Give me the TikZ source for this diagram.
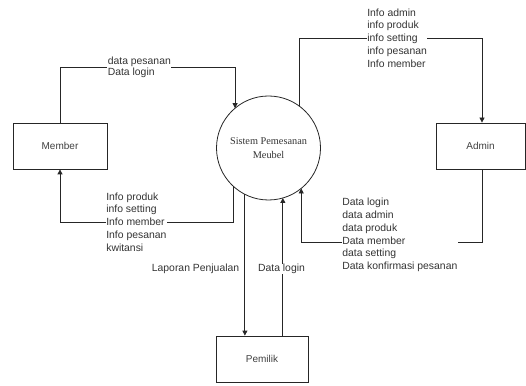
\documentclass[tikz,border=0pt]{standalone}
\usepackage{fontspec}
\setmainfont{Liberation Sans}
\newfontfamily\serifface{Liberation Serif}
\usetikzlibrary{arrows.meta}
\begin{document}
\begin{tikzpicture}[x=1pt,y=1pt,
  ent/.style={draw=black!85,line width=0.8pt,minimum width=94pt,minimum height=46pt,inner sep=0pt,
    font=\fontsize{10}{12}\selectfont,text=black!75},
  proc/.style={draw=black!85,line width=0.8pt,circle,minimum size=104pt,inner sep=0pt,outer sep=0pt,
    align=center,font=\serifface\fontsize{10.3}{13.5}\selectfont,text=black!80},
  flow/.style={draw=black!85,line width=0.8pt,-{Triangle[length=5pt,width=5pt]}},
  plain/.style={draw=black!85,line width=0.8pt},
  lbl/.style={fill=white,inner sep=0.6pt,align=left,text=black!80,
    font=\fontsize{10.4}{12.75}\selectfont},
]
\useasboundingbox (0,0) rectangle (526,385);
\node[ent] (member) at (60,239) {Member};
\node[ent,minimum width=89pt] (admin) at (480.5,239) {Admin};
\node[ent,minimum width=92pt] (pemilik) at (262,26) {Pemilik};
\node[proc] (sys) at (268.5,237) {Sistem Pemesanan\\Meubel};

\coordinate (c1) at (482,347);
\coordinate (c2) at (482,143);
\coordinate (c3) at (60,163);

\draw[flow] (member.north) -- ++(0,55.5) -| (sys.130);
\draw[flow] (sys.53) |- (c1) -- (c1 |- admin.north);
\draw[flow] (c2 |- admin.south) -- (c2) -| (sys.-51);
\draw[flow] (sys.-133) |- (c3) -- (member.south);
\draw[flow] (sys.-117) -- (sys.-117 |- pemilik.north);
\draw[flow] (pemilik.north -| sys.-74) -- (sys.-74);

\node[lbl,anchor=west,font=\fontsize{10.4}{11.6}\selectfont] (l1) at (107,317.5) {data pesanan\\Data login};
\node[lbl,anchor=west] (l2) at (366.5,347) {Info admin\\info produk\\info setting\\info pesanan\\Info member};
\node[lbl,anchor=west] (l3) at (105.5,163) {Info produk\\info setting\\Info member\\Info pesanan\\kwitansi};
\node[lbl,anchor=west] (l4) at (341.5,150) {Data login\\data admin\\data produk\\Data member\\data setting\\Data konfirmasi pesanan};
\node[lbl,anchor=east,fill=none] (l5) at (240,116) {Laporan Penjualan};
\node[lbl] (l6) at (281.5,116) {Data login};
\end{tikzpicture}
\end{document}
